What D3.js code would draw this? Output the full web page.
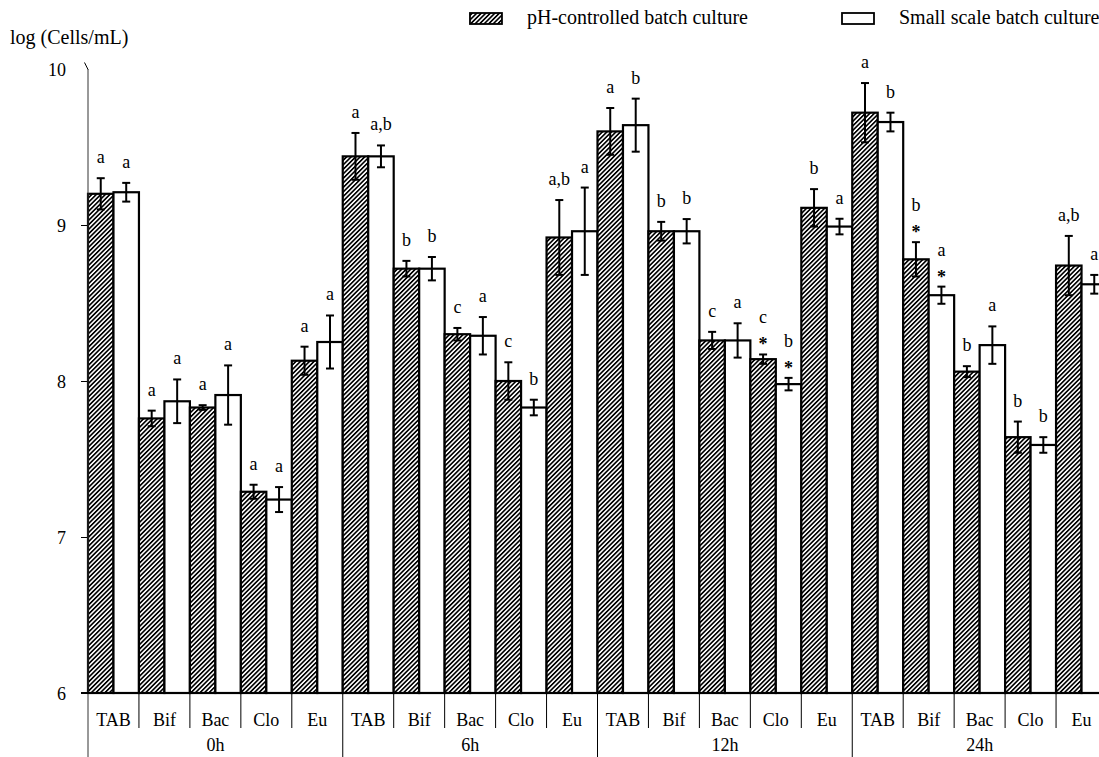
<!DOCTYPE html>
<html>
<head>
<meta charset="utf-8">
<script src="https://cdn.jsdelivr.net/npm/d3@7"></script>
<style>
  body { margin: 0; background: #fff; }
  svg { display: block; font-family: "Liberation Serif", "Times New Roman", serif; }
</style>
</head>
<body>
<script>
// data
const categories = ["TAB", "Bif", "Bac", "Clo", "Eu"];
const times = ["0h", "6h", "12h", "24h"];
const seriesNames = ["pH-controlled batch culture", "Small scale batch culture"];

// pH-controlled batch culture (hatched)
const phMean = [
  [9.20, 7.76, 7.83, 7.29, 8.13],
  [9.44, 8.72, 8.30, 8.00, 8.92],
  [9.60, 8.96, 8.26, 8.14, 9.11],
  [9.72, 8.78, 8.06, 7.64, 8.74]
];
const phErr = [
  [0.10, 0.05, 0.015, 0.045, 0.09],
  [0.15, 0.05, 0.04, 0.12, 0.24],
  [0.15, 0.06, 0.055, 0.03, 0.12],
  [0.19, 0.11, 0.035, 0.10, 0.19]
];
const phLabels = [
  ["a", "a", "a", "a", "a"],
  ["a", "b", "c", "c", "a,b"],
  ["a", "b", "c", "c*", "b"],
  ["a", "b*", "b", "b", "a,b"]
];

// small scale batch culture (white)
const smallMean = [
  [9.21, 7.87, 7.91, 7.24, 8.25],
  [9.44, 8.72, 8.29, 7.83, 8.96],
  [9.64, 8.96, 8.26, 7.98, 8.99],
  [9.66, 8.55, 8.23, 7.59, 8.62]
];
const smallErr = [
  [0.06, 0.14, 0.19, 0.08, 0.17],
  [0.07, 0.075, 0.12, 0.05, 0.28],
  [0.17, 0.078, 0.11, 0.04, 0.05],
  [0.06, 0.055, 0.12, 0.05, 0.06]
];
const smallLabels = [
  ["a", "a", "a", "a", "a"],
  ["a,b", "b", "a", "b", "a"],
  ["b", "b", "a", "b*", "a"],
  ["b", "a*", "a", "b", "a"]
];

const yTicks = [6, 7, 8, 9, 10];

const w = 1099;
const h = 757;
const fs = 18;
const fsBig = 20;

const svg = d3.select("body").append("svg")
  .attr("width", w)
  .attr("height", h);

const defs = svg.append("defs");
const pat = defs.append("pattern")
  .attr("id", "hatch")
  .attr("patternUnits", "userSpaceOnUse")
  .attr("width", 3.2)
  .attr("height", 3.2)
  .attr("patternTransform", "rotate(45)");
pat.append("rect").attr("width", 3.2).attr("height", 3.2).attr("fill", "#fff");
pat.append("line")
  .attr("x1", 0.8).attr("y1", 0).attr("x2", 0.8).attr("y2", 3.2)
  .attr("stroke", "#000").attr("stroke-width", 1.7);

const keys = [];
times.forEach(t => categories.forEach(c => keys.push(t + "|" + c)));

const x = d3.scaleBand().domain(keys).range([88, 1107]).padding(0);
const xs = d3.scaleBand().domain(["ph", "small"]).range([0, x.bandwidth()]);
const xg = d3.scaleBand().domain(times).range([88, 1107]).padding(0);
const y = d3.scaleLinear().domain([6, 10]).range([693, 69]);

const rows = [];
times.forEach((t, i) => {
  categories.forEach((c, j) => {
    rows.push({ key: t + "|" + c, s: "ph", mean: phMean[i][j], err: phErr[i][j], lab: phLabels[i][j] });
    rows.push({ key: t + "|" + c, s: "small", mean: smallMean[i][j], err: smallErr[i][j], lab: smallLabels[i][j] });
  });
});

// bars
svg.append("g").selectAll("rect")
  .data(rows)
  .enter()
  .append("rect")
  .attr("x", d => x(d.key) + xs(d.s))
  .attr("y", d => y(d.mean))
  .attr("width", xs.bandwidth())
  .attr("height", d => y(6) - y(d.mean))
  .attr("fill", d => d.s === "ph" ? "url(#hatch)" : "#fff")
  .attr("stroke", "#000")
  .attr("stroke-width", 2.2);

// error bars
const cx = d => x(d.key) + xs(d.s) + xs.bandwidth() / 2;
const eb = svg.append("g").attr("stroke", "#000").attr("stroke-width", 2);
eb.selectAll(".v").data(rows).enter().append("line")
  .attr("x1", cx).attr("x2", cx)
  .attr("y1", d => y(d.mean + d.err)).attr("y2", d => y(d.mean - d.err));
eb.selectAll(".t").data(rows).enter().append("line")
  .attr("x1", d => cx(d) - 4).attr("x2", d => cx(d) + 4)
  .attr("y1", d => y(d.mean + d.err)).attr("y2", d => y(d.mean + d.err));
eb.selectAll(".b").data(rows).enter().append("line")
  .attr("x1", d => cx(d) - 4).attr("x2", d => cx(d) + 4)
  .attr("y1", d => y(d.mean - d.err)).attr("y2", d => y(d.mean - d.err));

// significance letters
const lg = svg.append("g").attr("font-size", fs).attr("text-anchor", "middle");
rows.forEach(d => {
  const top = y(d.mean + d.err);
  const star = d.lab.endsWith("*");
  const letters = d.lab.replace("*", "");
  lg.append("text")
    .attr("x", cx(d))
    .attr("y", star ? top - 31 : top - 15)
    .text(letters);
  if (star) {
    lg.append("text")
      .attr("x", cx(d))
      .attr("y", top - 4)
      .attr("font-weight", "bold")
      .text("*");
  }
});

// y axis
const yAxis = d3.axisLeft(y).tickValues(yTicks).tickSize(7).tickPadding(15).tickFormat(d3.format("d"));
const ga = svg.append("g")
  .attr("transform", "translate(88,0)")
  .call(yAxis);
ga.select(".domain").remove();
ga.selectAll("text").attr("font-size", fs).attr("font-family", "Liberation Serif").attr("fill", "#000").attr("dy", "0.35em");
ga.selectAll(".tick line").attr("stroke", "#000");
ga.selectAll(".tick").filter(d => d === 10).select("line")
  .attr("x1", -3.5).attr("y1", -7).attr("x2", 0).attr("y2", 0);
ga.selectAll(".tick").filter(d => d === 6).select("line").remove();

svg.append("line")
  .attr("x1", 88).attr("x2", 88)
  .attr("y1", y(10)).attr("y2", h)
  .attr("stroke", "#333").attr("stroke-width", 1);

// x axis
svg.append("line")
  .attr("x1", 81).attr("x2", w)
  .attr("y1", y(6)).attr("y2", y(6))
  .attr("stroke", "#000").attr("stroke-width", 2);

// separators under the axis
const sep = svg.append("g").attr("stroke", "#000").attr("stroke-width", 1);
keys.forEach((k, i) => {
  const isGroup = i % categories.length === 0;
  if (i === 0) return;
  sep.append("line")
    .attr("x1", x(k)).attr("x2", x(k))
    .attr("y1", y(6)).attr("y2", isGroup ? h : 728);
});

// category labels
svg.append("g").attr("font-size", fs).attr("text-anchor", "middle")
  .selectAll("text")
  .data(keys)
  .enter()
  .append("text")
  .attr("x", k => x(k) + x.bandwidth() / 2)
  .attr("y", 726)
  .text(k => k.split("|")[1]);

// time labels
svg.append("g").attr("font-size", fs).attr("text-anchor", "middle")
  .selectAll("text")
  .data(times)
  .enter()
  .append("text")
  .attr("x", t => xg(t) + xg.bandwidth() / 2)
  .attr("y", 751)
  .text(t => t);

// y title
svg.append("text")
  .attr("x", 10)
  .attr("y", 44)
  .attr("font-size", fsBig)
  .text("log (Cells/mL)");

// legend
svg.append("text")
  .attr("x", 899).attr("y", 24)
  .attr("font-size", fsBig)
  .text(seriesNames[1]);
svg.append("rect")
  .attr("x", 842).attr("y", 13).attr("width", 32).attr("height", 11)
  .attr("fill", "#fff").attr("stroke", "#000").attr("stroke-width", 1.8);

const t1 = svg.append("text")
  .attr("x", 748).attr("y", 24)
  .attr("font-size", fsBig)
  .attr("text-anchor", "end")
  .text(seriesNames[0]);
const t1w = t1.node().getComputedTextLength();
svg.append("rect")
  .attr("x", 748 - t1w - 25 - 32).attr("y", 13).attr("width", 32).attr("height", 11)
  .attr("fill", "url(#hatch)").attr("stroke", "#000").attr("stroke-width", 1.8);
</script>
</body>
</html>
